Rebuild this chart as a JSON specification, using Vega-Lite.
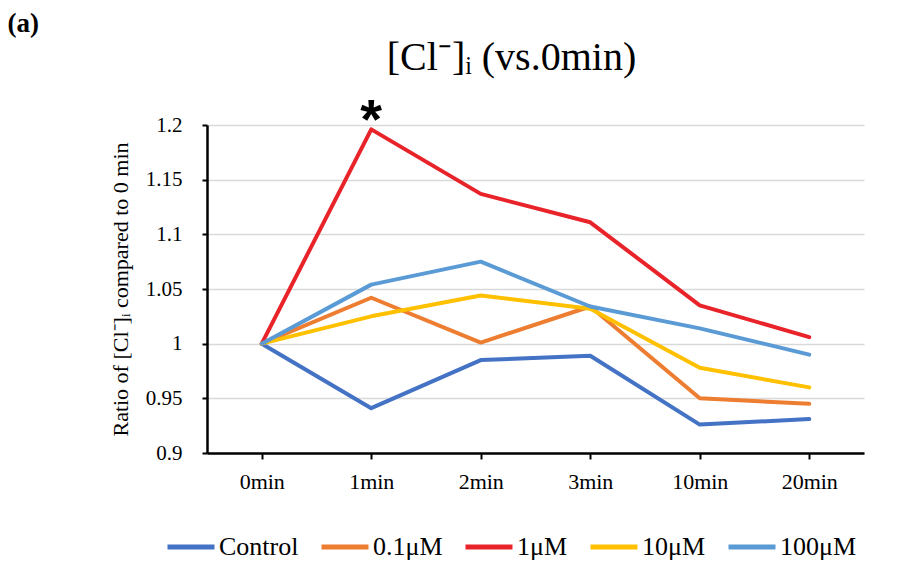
{
  "$schema": "https://vega.github.io/schema/vega-lite/v6.json",
  "autosize": "none",
  "width": 657,
  "height": 328,
  "padding": {"left": 207, "top": 125, "right": 45, "bottom": 126},
  "background": "white",
  "config": {"view": {"stroke": null}},
  "title": {
    "text": "[Cl⁻]ᵢ (vs.0min)",
    "font": "Liberation Serif",
    "fontSize": 40,
    "fontWeight": "normal",
    "color": "black",
    "anchor": "middle",
    "baseline": "alphabetic",
    "dx": -24,
    "dy": 111,
    "offset": 10
  },
  "datasets": {
    "series": [
      {"time": "0min", "series": "Control", "value": 1.0},
      {"time": "1min", "series": "Control", "value": 0.941},
      {"time": "2min", "series": "Control", "value": 0.985},
      {"time": "3min", "series": "Control", "value": 0.989},
      {"time": "10min", "series": "Control", "value": 0.926},
      {"time": "20min", "series": "Control", "value": 0.931},
      {"time": "0min", "series": "0.1μM", "value": 1.0},
      {"time": "1min", "series": "0.1μM", "value": 1.042},
      {"time": "2min", "series": "0.1μM", "value": 1.001},
      {"time": "3min", "series": "0.1μM", "value": 1.034},
      {"time": "10min", "series": "0.1μM", "value": 0.95},
      {"time": "20min", "series": "0.1μM", "value": 0.945},
      {"time": "0min", "series": "1μM", "value": 1.0},
      {"time": "1min", "series": "1μM", "value": 1.196},
      {"time": "2min", "series": "1μM", "value": 1.137},
      {"time": "3min", "series": "1μM", "value": 1.111},
      {"time": "10min", "series": "1μM", "value": 1.035},
      {"time": "20min", "series": "1μM", "value": 1.006},
      {"time": "0min", "series": "10μM", "value": 1.0},
      {"time": "1min", "series": "10μM", "value": 1.025},
      {"time": "2min", "series": "10μM", "value": 1.044},
      {"time": "3min", "series": "10μM", "value": 1.032},
      {"time": "10min", "series": "10μM", "value": 0.978},
      {"time": "20min", "series": "10μM", "value": 0.96},
      {"time": "0min", "series": "100μM", "value": 1.0},
      {"time": "1min", "series": "100μM", "value": 1.054},
      {"time": "2min", "series": "100μM", "value": 1.075},
      {"time": "3min", "series": "100μM", "value": 1.034},
      {"time": "10min", "series": "100μM", "value": 1.014},
      {"time": "20min", "series": "100μM", "value": 0.99}
    ],
    "annot": [
      {"time": "1min", "value": 1.196, "label": "*"}
    ]
  },
  "layer": [
    {
      "data": {"name": "series"},
      "mark": {"type": "line", "strokeWidth": 4, "strokeCap": "round", "strokeJoin": "round"},
      "encoding": {
        "x": {
          "field": "time",
          "type": "ordinal",
          "sort": ["0min", "1min", "2min", "3min", "10min", "20min"],
          "scale": {"padding": 0.5},
          "axis": {
            "grid": false,
            "domainColor": "black",
            "domainWidth": 2.5,
            "tickColor": "black",
            "tickWidth": 2,
            "tickSize": 6,
            "labelAngle": 0,
            "labelFont": "Liberation Serif",
            "labelFontSize": 22,
            "labelColor": "black",
            "labelPadding": 12,
            "title": "(a)",
            "titleFont": "Liberation Serif",
            "titleFontSize": 27,
            "titleFontWeight": "bold",
            "titleColor": "black",
            "titleX": -200,
            "titleY": -422,
            "titleAlign": "left",
            "titleBaseline": "alphabetic",
            "titleAngle": 0
          }
        },
        "y": {
          "field": "value",
          "type": "quantitative",
          "scale": {"domain": [0.9, 1.2], "zero": false, "nice": false},
          "axis": {
            "values": [0.9, 0.95, 1.0, 1.05, 1.1, 1.15, 1.2],
            "format": ".2~f",
            "grid": true,
            "gridColor": "#D9D9D9",
            "gridWidth": 1.5,
            "domainColor": "black",
            "domainWidth": 2.5,
            "tickColor": "black",
            "tickWidth": 2,
            "tickSize": 5,
            "labelFont": "Liberation Serif",
            "labelFontSize": 21,
            "labelColor": "black",
            "labelPadding": 20,
            "title": "Ratio of [Cl⁻]ᵢ compared to 0 min",
            "titleFont": "Liberation Serif",
            "titleFontSize": 22,
            "titleFontWeight": "normal",
            "titleColor": "black",
            "titlePadding": 13
          }
        },
        "color": {
          "field": "series",
          "type": "nominal",
          "scale": {
            "domain": ["Control", "0.1μM", "1μM", "10μM", "100μM"],
            "range": ["#4472C4", "#ED7D31", "#E8242A", "#FFC000", "#5B9BD5"]
          },
          "legend": {
            "orient": "none",
            "legendX": -42,
            "legendY": 396,
            "direction": "horizontal",
            "columns": 5,
            "title": null,
            "padding": 0,
            "symbolType": "stroke",
            "symbolSize": 2209,
            "symbolStrokeWidth": 5,
            "labelFont": "Liberation Serif",
            "labelFontSize": 26,
            "labelColor": "black",
            "labelOffset": 2,
            "columnPadding": 12
          }
        }
      }
    },
    {
      "data": {"name": "annot"},
      "mark": {"type": "text", "font": "Liberation Sans", "fontWeight": "bold", "fontSize": 56, "baseline": "alphabetic", "dy": 9, "color": "black"},
      "encoding": {
        "x": {"field": "time", "type": "ordinal", "sort": ["0min", "1min", "2min", "3min", "10min", "20min"]},
        "y": {"field": "value", "type": "quantitative"},
        "text": {"field": "label"}
      }
    }
  ]
}
